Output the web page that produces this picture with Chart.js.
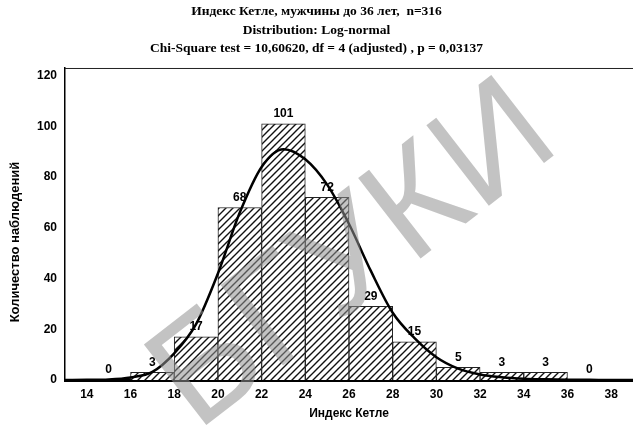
<!DOCTYPE html>
<html>
<head>
<meta charset="utf-8">
<script src="https://cdn.jsdelivr.net/npm/chart.js@4.4.0/dist/chart.umd.min.js"></script>
<style>
  html, body { margin: 0; padding: 0; background: #fff; }
</style>
</head>
<body>
<canvas id="chart" width="633" height="427"></canvas>
<script>
// histogram bins (left edge of each 2-unit bin) and counts
const binStarts = [14, 16, 18, 20, 22, 24, 26, 28, 30, 32, 34, 36];
const counts = [0, 3, 17, 68, 101, 72, 29, 15, 5, 3, 3, 0];

// fitted log-normal curve
const curveX = [13, 14, 15, 16, 17, 18, 19, 20, 21, 22, 23, 24, 25, 26, 27, 28, 29, 30, 31, 32, 33, 34, 35, 36, 37, 38, 39];
const curveY = [0, 0.05, 0.2, 1, 3.2, 10.5, 22, 42, 66, 84, 91, 87, 77, 61.5, 43, 26.5, 16.5, 9, 4.5, 2.2, 1.1, 0.5, 0.25, 0.1, 0.05, 0.02, 0];

const xTicks = [14, 16, 18, 20, 22, 24, 26, 28, 30, 32, 34, 36, 38];
const yTicks = [0, 20, 40, 60, 80, 100, 120];

const titleLines = [
    'Индекс Кетле, мужчины до 36 лет,  n=316',
    'Distribution: Log-normal',
    'Chi-Square test = 10,60620, df = 4 (adjusted) , p = 0,03137'
];
const yTitle = 'Количество наблюдений';

const canvas = document.getElementById('chart');
const ctx = canvas.getContext('2d');

// diagonal hatch fill for the bars
function makeHatch() {
    const s = 7;
    const c = document.createElement('canvas');
    c.width = s;
    c.height = s;
    const g = c.getContext('2d');
    g.fillStyle = '#fff';
    g.fillRect(0, 0, s, s);
    g.strokeStyle = '#111';
    g.lineWidth = 1.4;
    g.beginPath();
    g.moveTo(-1, s + 1); g.lineTo(s + 1, -1);
    g.moveTo(-1, 1); g.lineTo(1, -1);
    g.moveTo(s - 1, s + 1); g.lineTo(s + 1, s - 1);
    g.stroke();
    return ctx.createPattern(c, 'repeat');
}

const boldFont = { family: 'Liberation Sans, Arial, sans-serif', size: 12, weight: 'bold' };

// value labels above the bars
const barLabels = {
    id: 'barLabels',
    afterDatasetsDraw(chart) {
        const c = chart.ctx;
        const meta = chart.getDatasetMeta(1);
        c.save();
        c.font = 'bold 12px "Liberation Sans", Arial, sans-serif';
        c.fillStyle = '#000';
        c.textAlign = 'center';
        c.textBaseline = 'middle';
        meta.data.forEach((bar, i) => {
            c.fillText(String(counts[i]), bar.x, bar.y - 10);
        });
        c.restore();
    }
};

// top edge of the frame + rotated y axis title (sits a bit low in the original)
const frameTop = {
    id: 'frameTop',
    beforeDatasetsDraw(chart) {
        const a = chart.chartArea;
        const c = chart.ctx;
        c.save();
        c.strokeStyle = '#222';
        c.lineWidth = 1;
        c.beginPath();
        c.moveTo(a.left, a.top + 0.5);
        c.lineTo(a.right, a.top + 0.5);
        c.stroke();

        c.translate(15, 242);
        c.rotate(-Math.PI / 2);
        c.font = 'bold 13px "Liberation Sans", Arial, sans-serif';
        c.fillStyle = '#000';
        c.textAlign = 'center';
        c.textBaseline = 'middle';
        c.fillText(yTitle, 0, 0);
        c.restore();
    }
};

// grey watermark across the picture
const watermark = {
    id: 'watermark',
    afterDraw(chart) {
        const c = chart.ctx;
        c.save();
        c.translate(355, 258);
        c.rotate(-0.66);
        c.font = '148px "Liberation Sans", Arial, sans-serif';
        c.fillStyle = 'rgba(145,145,145,0.55)';
        c.textAlign = 'center';
        c.textBaseline = 'middle';
        c.fillText('БГУКИ', 0, 0);
        c.restore();
    }
};

new Chart(ctx, {
    data: {
        datasets: [{
            type: 'line',
            data: curveX.map((x, i) => ({ x: x, y: curveY[i] })),
            borderColor: '#000',
            borderWidth: 2.5,
            pointRadius: 0,
            cubicInterpolationMode: 'monotone',
            fill: false,
            order: 0
        }, {
            type: 'bar',
            data: binStarts.map((b, i) => ({ x: b + 1, y: counts[i] })),
            backgroundColor: makeHatch(),
            borderColor: '#222',
            borderWidth: 1,
            barPercentage: 1,
            categoryPercentage: 1,
            order: 1
        }]
    },
    options: {
        responsive: false,
        animation: false,
        devicePixelRatio: 1,
        layout: { padding: 0 },
        plugins: {
            legend: { display: false },
            tooltip: { enabled: false },
            title: {
                display: true,
                text: titleLines,
                color: '#000',
                font: { family: 'Liberation Serif, Times New Roman, serif', size: 13.5, weight: 'bold', lineHeight: 1.37 },
                padding: { top: 2.5, bottom: 10 }
            }
        },
        scales: {
            x: {
                type: 'linear',
                min: 13,
                max: 39,
                offset: false,
                grid: { display: false, drawTicks: false },
                border: { display: true, color: '#000', width: 3 },
                ticks: { color: '#000', font: boldFont, padding: 7, autoSkip: false, maxRotation: 0 },
                afterBuildTicks: s => { s.ticks = xTicks.map(v => ({ value: v })); },
                afterFit: s => { s.height = 47; },
                title: { display: true, text: 'Индекс Кетле', color: '#000', font: boldFont, padding: { top: 8, bottom: 6 } }
            },
            y: {
                min: 0,
                max: 123,
                grid: { display: false, drawTicks: false },
                border: { display: true, color: '#000', width: 1.5 },
                ticks: { color: '#000', font: boldFont, padding: 8 },
                afterBuildTicks: s => { s.ticks = yTicks.map(v => ({ value: v })); },
                afterFit: s => { s.width = 65; }
            }
        }
    },
    plugins: [frameTop, barLabels, watermark]
});
</script>
</body>
</html>
